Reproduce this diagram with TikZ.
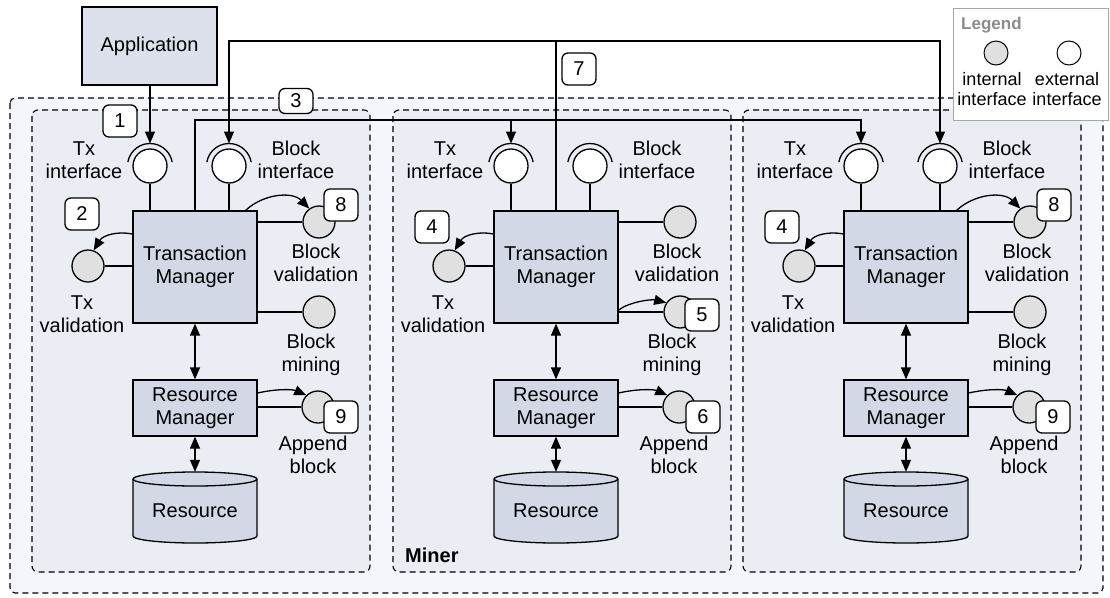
\documentclass[tikz,border=0pt]{standalone}
\usepackage{fontspec}
\setmainfont{Liberation Sans}
\usetikzlibrary{arrows.meta,calc}

\definecolor{outerfill}{HTML}{F3F6FA}
\definecolor{innerfill}{HTML}{EAEEF4}
\definecolor{boxfill}{HTML}{D2D8E5}
\definecolor{appfill}{HTML}{DCE1EB}
\definecolor{intfill}{HTML}{E0E0E0}
\definecolor{legendborder}{HTML}{A6A6A6}
\definecolor{legendtext}{HTML}{8C8C8C}

\tikzset{
  every node/.style={font=\fontsize{20}{22.5}\selectfont, inner sep=0pt},
  comp/.style={draw, fill=boxfill, line width=1.3pt, minimum width=124pt, align=center},
  extif/.style={circle, draw, fill=white, minimum size=34pt, line width=1.3pt},
  intif/.style={circle, draw, fill=intfill, minimum size=32pt, line width=1.3pt},
  lbl/.style={align=center},
  badge/.style={draw, fill=white, rounded corners=6pt, minimum width=34pt,
                minimum height=32pt, line width=1.3pt},
  conn/.style={line width=1.3pt},
  arr/.style={conn, -{Triangle[length=12pt,width=10pt]}},
  darr/.style={conn, {Triangle[length=12pt,width=10pt]}-{Triangle[length=12pt,width=10pt]}},
  group/.style={draw, dash pattern=on 6pt off 4pt, line width=1.1pt, rounded corners=6pt},
}

% One miner node: dashed frame, managers, resource store and interfaces.
% #1 is the suffix used in every node name of the unit.
\newcommand{\minerunit}[1]{%
  \draw[group, fill=innerfill] (32,110) rectangle (370,572);
  % managers
  \node[comp, minimum height=112pt] (tm#1) at (195,267) {Transaction\\Manager};
  \node[comp, minimum height=56pt] (rm#1) at (195,408) {Resource\\Manager};
  % resource store (cylinder)
  \filldraw[fill=boxfill, line width=1.3pt]
    (133,479) -- (133,536) arc[start angle=180, end angle=0, x radius=62, y radius=7]
    -- (257,479) arc[start angle=0, end angle=-180, x radius=62, y radius=7] -- cycle;
  \draw[line width=1.3pt] (133,479) arc[start angle=180, end angle=0, x radius=62, y radius=7];
  \node[minimum width=124pt, minimum height=78pt] (res#1) at (195,511) {Resource};
  % external interfaces
  \node[extif] (txif#1) at (150,166) {};
  \node[extif] (bkif#1) at (229,166) {};
  \draw[conn] ([shift={(190:22.5)}]txif#1.center) arc[start angle=190, end angle=350, radius=22.5];
  \draw[conn] ([shift={(190:22.5)}]bkif#1.center) arc[start angle=190, end angle=350, radius=22.5];
  \coordinate (txtop#1) at ([yshift=22.5pt]txif#1.center);
  \coordinate (bktop#1) at ([yshift=22.5pt]bkif#1.center);
  % internal interfaces
  \node[intif] (txval#1) at (88,266) {};
  \node[intif] (bkval#1) at (319,222) {};
  \node[intif] (bkmin#1) at (319,312) {};
  \node[intif] (apnd#1) at (318,407) {};
  % labels
  \node[lbl] (txifl#1) at (84,160) {Tx\\interface};
  \node[lbl] (bkifl#1) at (296,160) {Block\\interface};
  \node[lbl] (txvall#1) at (82,314) {Tx\\validation};
  \node[lbl] (bkvall#1) at (316,263) {Block\\validation};
  \node[lbl] (bkminl#1) at (311,355) {Block\\mining};
  \node[lbl] (apndl#1) at (313,455) {Append\\block};
  % connectors
  \draw[conn] (txif#1) -- (txif#1 |- tm#1.north);
  \draw[conn] (bkif#1) -- (bkif#1 |- tm#1.north);
  \draw[conn] (txval#1) -- (txval#1 -| tm#1.west);
  \draw[conn] (bkval#1) -- (bkval#1 -| tm#1.east);
  \draw[conn] (bkmin#1) -- (bkmin#1 -| tm#1.east);
  \draw[conn] (apnd#1) -- (apnd#1 -| rm#1.east);
  \draw[darr] (tm#1) -- (rm#1);
  \draw[darr] (rm#1) -- (res#1);
  % calls that every unit makes
  \draw[arr] ([yshift=33pt]tm#1.west) .. controls (118,231) and (103,235) .. (txval#1.70);
  \draw[arr] ([yshift=15pt]rm#1.east) .. controls (275,389) and (292,389) .. (apnd#1.135);
}

\begin{document}
\begin{tikzpicture}[x=1pt, y=-1pt]
  \useasboundingbox (0,0) rectangle (1110,597);

  % network of miners
  \draw[group, fill=outerfill, rounded corners=5pt] (10,98) rectangle (1103,593);

  \minerunit{1}
  \draw[arr] ([xshift=-12pt]tm1.north east) .. controls (263,194) and (292,191) .. (bkval1.126);

  \begin{scope}[xshift=361pt]
    \minerunit{2}
    \draw[arr] ([yshift=-43pt]tm2.east) .. controls (268,302) and (290,299) .. (bkmin2.146);
  \end{scope}

  \begin{scope}[xshift=711pt]
    \minerunit{3}
    \draw[arr] ([xshift=-12pt]tm3.north east) .. controls (263,194) and (292,191) .. (bkval3.126);
  \end{scope}

  \node[anchor=west, font=\fontsize{20}{22.5}\selectfont\bfseries] (minerlbl) at (405,555) {Miner};

  % client application
  \node[comp, fill=appfill, minimum width=135pt, minimum height=78pt] (app) at (149.5,46) {Application};
  \draw[arr] (app.south -| txtop1) -- (txtop1);

  % broadcast buses
  \coordinate (topbus) at (0,41);
  \coordinate (midbus) at (0,120);
  \draw[darr] (bktop1) -- (bktop1 |- topbus) -- (bktop3 |- topbus) -- (bktop3);
  \draw[conn] (tm2.north) -- (tm2.north |- topbus);
  \draw[arr] (tm1.north) -- (tm1.north |- midbus) -| (txtop3);
  \draw[arr] (txtop2 |- midbus) -- (txtop2);

  % step badges
  \node[badge] (s1) at (120,121) {1};
  \node[badge] (s2) at (82,214) {2};
  \node[badge, minimum height=25pt] (s3) at (296,101) {3};
  \node[badge] (s8a) at (341,205) {8};
  \node[badge] (s9a) at (341,417) {9};
  \node[badge] (s4a) at (432,227) {4};
  \node[badge] (s5) at (702,315) {5};
  \node[badge] (s6) at (703,417) {6};
  \node[badge] (s7) at (579,69) {7};
  \node[badge] (s4b) at (782,227) {4};
  \node[badge] (s8b) at (1054,205) {8};
  \node[badge] (s9b) at (1053,417) {9};

  % legend
  \node[draw=legendborder, fill=white, line width=1pt, minimum width=155pt,
        minimum height=112pt] (legend) at (1030.5,64) {};
  \node[anchor=west, text=legendtext, font=\fontsize{17}{20}\selectfont\bfseries] (legtitle) at (961,25) {Legend};
  \node[intif, minimum size=24pt, line width=1pt] (legint) at (996,53) {};
  \node[extif, minimum size=24pt, line width=1pt] (legext) at (1069,53) {};
  \node[lbl, font=\fontsize{18}{20}\selectfont] (legintl) at (992,89) {internal\\interface};
  \node[lbl, font=\fontsize{18}{20}\selectfont] (legextl) at (1067,89) {external\\interface};
\end{tikzpicture}
\end{document}
